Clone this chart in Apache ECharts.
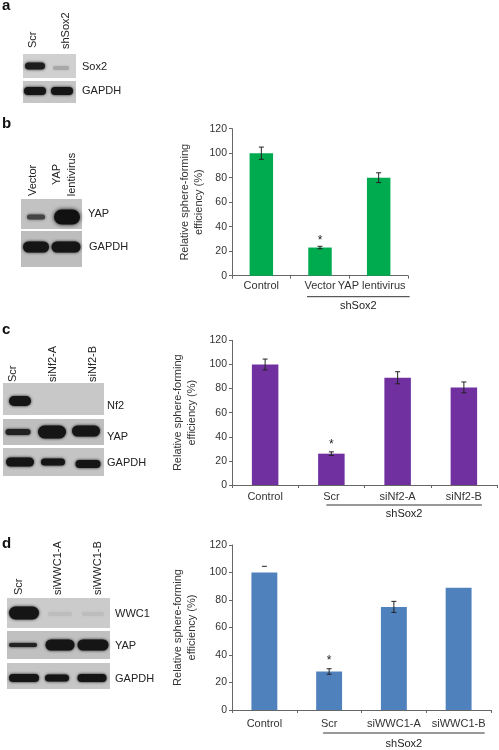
<!DOCTYPE html>
<html><head><meta charset="utf-8">
<script src="https://cdn.jsdelivr.net/npm/echarts@6/dist/echarts.min.js"></script>
<style>html,body{margin:0;padding:0;background:#fff}#c{width:499px;height:750px}</style>
</head><body><div id="c"></div>
<script>
// ---- data ----
const catsB = ['Control', 'Vector', 'YAP lentivirus'];
const valsB = [100, 23, 80];
const errsB = [5, 1, 4];
const starsB = ['', '*', ''];

const catsC = ['Control', 'Scr', 'siNf2-A', 'siNf2-B'];
const valsC = [100, 26, 89, 81];
const errsC = [4.5, 1.5, 5, 4.5];
const starsC = ['', '*', '', ''];

const catsD = ['Control', 'Scr', 'siWWC1-A', 'siWWC1-B'];
const valsD = [100, 28, 75, 89];
const errsD = [4.5, 2, 4, 0];
const stemsD = [0, 1, 1, 1];
const starsD = ['', '*', '', ''];

const yMin = 0, yMax = 120, yStep = 20;
const yTitle = 'Relative sphere-forming\nefficiency (%)';
const groupLabel = 'shSox2';

const colB = '#00ab4f', colC = '#7030a0', colD = '#4f81bd';
const FONT = 'Liberation Sans, Arial, sans-serif';

const chart = echarts.init(document.getElementById('c'), null, {renderer: 'canvas'});

const grids = [
  {left: 232, top: 128.7, width: 176, height: 147},
  {left: 232, top: 340.4, width: 265, height: 144.6},
  {left: 232, top: 545, width: 259, height: 165}
];
const labelMargins = [5, 6, 8];

function xAx(i, cats) {
  return {
    type: 'category', gridIndex: i, data: cats.map((c, k) => {
      if (i === 0 && k === 2) return {value: c, textStyle: {padding: [0, 14, 0, 0]}};
      return c;
    }),
    axisLine: {lineStyle: {color: '#666', width: 1}},
    axisTick: {show: true, length: 3, lineStyle: {color: '#666'}},
    axisLabel: {interval: 0, fontSize: 11, color: '#333', margin: labelMargins[i], fontFamily: FONT}
  };
}
function yAx(i) {
  return {
    type: 'value', gridIndex: i, min: yMin, max: yMax, interval: yStep,
    axisLine: {show: true, lineStyle: {color: '#666', width: 1}},
    axisTick: {show: true, length: 3, lineStyle: {color: '#666'}},
    axisLabel: {fontSize: 10.5, color: '#333', margin: 5, fontFamily: FONT},
    splitLine: {show: false},
    name: yTitle, nameLocation: 'middle', nameRotate: 90, nameGap: 26,
    nameTextStyle: {fontSize: 11, color: '#333', lineHeight: 14, fontFamily: FONT}
  };
}
function barSeries(i, vals, color, stars, dist) {
  return {
    type: 'bar', xAxisIndex: i, yAxisIndex: i, data: vals, barWidth: '40%',
    itemStyle: {color: color},
    label: {show: true, position: 'top', distance: dist, fontSize: 12, color: '#222',
            fontFamily: FONT, formatter: p => stars[p.dataIndex]},
    silent: true
  };
}
function errSeries(i, vals, errs, stems) {
  return {
    type: 'custom', xAxisIndex: i, yAxisIndex: i, silent: true, z: 5,
    data: vals.map((v, k) => [k, v, errs[k], stems ? stems[k] : 1]),
    renderItem: function (params, api) {
      const x = api.value(0), v = api.value(1), e = api.value(2), s = api.value(3);
      if (!e) return null;
      const t = api.coord([x, v + e]), b = api.coord([x, v - e]);
      const hw = 2.5;
      const st = {stroke: '#222', lineWidth: 1};
      const ch = [
        {type: 'line', shape: {x1: t[0] - hw, y1: t[1], x2: t[0] + hw, y2: t[1]}, style: st}
      ];
      if (s) {
        ch.push({type: 'line', shape: {x1: t[0], y1: t[1], x2: b[0], y2: b[1]}, style: st});
        ch.push({type: 'line', shape: {x1: b[0] - hw, y1: b[1], x2: b[0] + hw, y2: b[1]}, style: st});
      }
      return {type: 'group', children: ch};
    }
  };
}

// ---- blots (image-like decoration) ----
const G = [];
function txt(x, y, s, opt) {
  G.push(Object.assign({type: 'text', x: x, y: y, silent: true,
    style: {text: s, fontSize: 11, fontFamily: FONT, fill: '#222', textAlign: 'left', textVerticalAlign: 'middle'}}, opt || {}));
}
function rtxt(x, y, s, align) {
  G.push({type: 'text', x: x, y: y, rotation: Math.PI / 2, silent: true,
    style: {text: s, fontSize: 11, fontFamily: FONT, fill: '#222', textAlign: align || 'left',
            textVerticalAlign: 'middle', lineHeight: 15}});
}
function box(x, y, w, h, fill) {
  G.push({type: 'rect', silent: true, shape: {x: x, y: y, width: w, height: h}, style: {fill: fill}});
}
function band(cx, cy, w, h, color, blur) {
  G.push({type: 'rect', silent: true, shape: {x: cx - w / 2, y: cy - h / 2, width: w, height: h, r: h / 2},
    style: {fill: color || '#151515', shadowBlur: blur == null ? 3 : blur, shadowColor: color || '#151515'}});
}
function letter(x, y, s) {
  G.push({type: 'text', x: x, y: y, silent: true, z: 10,
    style: {text: s, fontSize: 15, fontWeight: 'bold', fontFamily: FONT, fill: '#111', textVerticalAlign: 'top'}});
}

// a
letter(2, -2, 'a');
rtxt(33, 48, 'Scr'); rtxt(66, 49, 'shSox2');
box(23, 54, 53, 24, '#d0d0d0');
band(35, 66, 20, 7, '#1e1e1e'); band(61, 68, 16, 4, '#a8a8a8', 2);
box(23, 81, 53, 22, '#c6c6c6');
band(35, 91, 22, 8); band(62, 91, 22, 8);
txt(82, 67, 'Sox2'); txt(82, 91, 'GAPDH');

// b
letter(2, 116.5, 'b');
rtxt(33, 196, 'Vector'); rtxt(64.5, 174.5, 'YAP\nlentivirus', 'center');
box(21, 199, 61, 30, '#c2c2c2');
band(36, 217, 18, 5, '#444'); band(67, 217, 26, 15, '#111', 4);
box(21, 231, 61, 36, '#bdbdbd');
band(36, 247, 26, 11); band(66, 247, 29, 11);
txt(88, 214, 'YAP'); txt(89, 247, 'GAPDH');

// c
letter(2, 322.5, 'c');
rtxt(13, 382, 'Scr'); rtxt(53, 382, 'siNf2-A'); rtxt(93, 382, 'siNf2-B');
box(3, 383, 101, 32, '#c8c8c8');
band(20, 401, 22, 10);
box(3, 419, 101, 26, '#bfbfbf');
band(18, 432, 25, 6, '#222'); band(52, 432, 28, 13); band(86, 431, 28, 11);
box(3, 448, 101, 28, '#c4c4c4');
band(20, 462, 28, 9); band(53, 462, 24, 7); band(88, 464, 25, 8);
txt(107, 406, 'Nf2'); txt(107, 437, 'YAP'); txt(107, 463, 'GAPDH');

// d
letter(2, 536, 'd');
rtxt(18.5, 595, 'Scr'); rtxt(58, 595, 'siWWC1-A'); rtxt(98, 595, 'siWWC1-B');
box(7, 598, 103, 30, '#cbcbcb');
band(24, 613, 30, 13); band(60, 614, 24, 4, '#bdbdbd', 2); band(93, 614, 22, 4, '#bdbdbd', 2);
box(7, 631, 103, 28, '#c0c0c0');
band(23, 645, 28, 4, '#222'); band(60, 645, 29, 11); band(93, 645, 31, 11);
box(7, 663, 103, 26, '#c6c6c6');
band(24, 678, 30, 8); band(57, 678, 24, 7); band(92, 678, 29, 8);
txt(115, 614, 'WWC1'); txt(115, 646, 'YAP'); txt(115, 679, 'GAPDH');

chart.setOption({
  animation: false,
  textStyle: {fontFamily: FONT},
  grid: grids,
  xAxis: [xAx(0, catsB), xAx(1, catsC), xAx(2, catsD)],
  yAxis: [yAx(0), yAx(1), yAx(2)],
  series: [
    barSeries(0, valsB, colB, starsB, 1), errSeries(0, valsB, errsB),
    barSeries(1, valsC, colC, starsC, 3), errSeries(1, valsC, errsC),
    barSeries(2, valsD, colD, starsD, 5), errSeries(2, valsD, errsD, stemsD)
  ],
  graphic: G
});

// group brackets ("shSox2") placed from axis positions
function group(i, cats, first, last, lOff, rOff, lineDy, textDy) {
  const x1 = chart.convertToPixel({xAxisIndex: i}, cats[first]) + lOff;
  const x2 = chart.convertToPixel({xAxisIndex: i}, cats[last]) + rOff;
  const y0 = chart.convertToPixel({yAxisIndex: i}, yMin);
  return [
    {type: 'line', silent: true, shape: {x1: x1, y1: y0 + lineDy, x2: x2, y2: y0 + lineDy},
     style: {stroke: '#333', lineWidth: 1}},
    {type: 'text', silent: true, x: (x1 + x2) / 2, y: y0 + textDy,
     style: {text: groupLabel, fontSize: 11, fontFamily: FONT, fill: '#222', textAlign: 'center', textVerticalAlign: 'middle'}}
  ];
}
const extra = [].concat(
  group(0, catsB, 1, 2, -13, 31, 21, 30.5),
  group(1, catsC, 1, 3, -5, 18, 20, 28.5),
  group(2, catsD, 1, 3, -6, 26, 23, 33.5)
);
chart.setOption({graphic: G.concat(extra)});
</script>
</body></html>
